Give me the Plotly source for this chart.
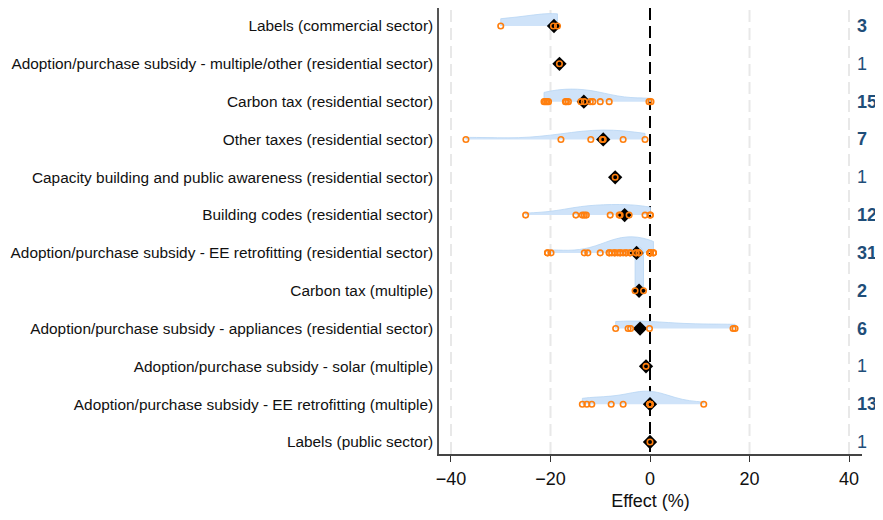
import plotly.graph_objects as go

# ---------------- data ----------------
categories = [
    "Labels (commercial sector)",
    "Adoption/purchase subsidy - multiple/other (residential sector)",
    "Carbon tax (residential sector)",
    "Other taxes (residential sector)",
    "Capacity building and public awareness (residential sector)",
    "Building codes (residential sector)",
    "Adoption/purchase subsidy - EE retrofitting (residential sector)",
    "Carbon tax (multiple)",
    "Adoption/purchase subsidy - appliances (residential sector)",
    "Adoption/purchase subsidy - solar (multiple)",
    "Adoption/purchase subsidy - EE retrofitting (multiple)",
    "Labels (public sector)",
]

labels_commercial = [-30.0, -19.4, -18.6]
subsidy_other_res = [-18.2]
carbon_tax_res = [-21.3, -21.0, -20.7, -20.4, -17.0, -16.8, -16.4, -13.9, -13.2,
                  -12.0, -11.5, -10.0, -8.2, -0.2, 0.2]
other_taxes_res = [-37.0, -17.9, -11.9, -9.6, -9.4, -5.4, -1.0]
capacity_building_res = [-7.0]
building_codes_res = [-25.0, -14.9, -13.6, -13.2, -12.8, -8.0, -6.2, -6.0, -4.2,
                      -1.0, 0.0, 0.1]
ee_retrofit_res = [-20.6, -20.6, -19.9, -13.2, -12.5, -10.0, -8.2, -8.2, -7.7,
                   -7.1, -7.1, -6.5, -6.0, -6.0, -5.4, -4.8, -4.8, -4.0, -4.0,
                   -2.8, -2.8, -2.2, -2.2, 0.0, 0.0, 0.0, 0.0, 0.0, 0.1, 0.7, 0.7]
carbon_tax_multiple = [-3.0, -1.3]
subsidy_appliances_res = [-6.9, -4.4, -3.9, -0.1, 16.7, 17.1]
subsidy_solar_multiple = [-0.8]
ee_retrofit_multiple = [-13.6, -12.7, -11.7, -7.8, -5.4, 0.0, 0.0, 0.0, 0.0, 0.0,
                        0.0, 0.0, 10.8]
labels_public = [0.0]

pooled_estimates = [-19.3, -18.2, -13.3, -9.4, -7.0, -5.1, -2.7, -2.2, -2.0, -0.8, 0.0, 0.0]
study_counts = [3, 1, 15, 7, 1, 12, 31, 2, 6, 1, 13, 1]

x_ticks = [-40, -20, 0, 20, 40]
x_title = "Effect (%)"

effects = [labels_commercial, subsidy_other_res, carbon_tax_res, other_taxes_res,
           capacity_building_res, building_codes_res, ee_retrofit_res,
           carbon_tax_multiple, subsidy_appliances_res, subsidy_solar_multiple,
           ee_retrofit_multiple, labels_public]

# ---------------- figure ----------------
FONT = "Liberation Sans, Arial, sans-serif"
n_rows = len(categories)
ypos = list(range(n_rows, 0, -1))  # first category on top

pt_x, pt_y = [], []
for vals, y in zip(effects, ypos):
    pt_x.extend(vals)
    pt_y.extend([y] * len(vals))

# densities: the narrow two-study row gets its own trace, the rest share a scale
wide_x, wide_y, narrow_x, narrow_y = [], [], [], []
for vals, y in zip(effects, ypos):
    if len(vals) < 2:
        continue
    if len(vals) == 2:
        narrow_x.extend(vals)
        narrow_y.extend([y] * len(vals))
    else:
        wide_x.extend(vals)
        wide_y.extend([y] * len(vals))

violin_style = dict(
    orientation="h", side="positive", spanmode="hard", points=False,
    quartilemethod="exclusive", fillcolor="#cfe3f9",
    line=dict(color="#b8d5f4", width=0.8), box_visible=False,
    meanline_visible=False, hoverinfo="skip", showlegend=False,
)

fig = go.Figure()
fig.add_trace(go.Violin(x=wide_x, y=wide_y, width=0.85, **violin_style))
fig.add_trace(go.Violin(x=narrow_x, y=narrow_y, width=2.3, **violin_style))

fig.add_trace(go.Scatter(
    x=pooled_estimates, y=ypos, mode="markers",
    marker=dict(symbol="diamond", size=11, color="black"),
    showlegend=False, hoverinfo="skip",
))

fig.add_trace(go.Scatter(
    x=pt_x, y=pt_y, mode="markers",
    marker=dict(symbol="circle-open", size=5.5, color="#ff7f0e",
                line=dict(width=1.6, color="#ff7f0e")),
    showlegend=False, hoverinfo="skip",
))

# light dashed gridlines at the non-zero ticks, black dashed reference line at 0
for t in x_ticks:
    if t == 0:
        continue
    fig.add_shape(type="line", x0=t, x1=t, y0=0, y1=1, xref="x", yref="paper",
                  line=dict(color="#e8e8e8", width=2, dash="12px,6px"), layer="below")
fig.add_shape(type="line", x0=0, x1=0, y0=1, y1=0, xref="x", yref="paper",
              line=dict(color="black", width=2, dash="12px,6px"), layer="below")

for n, y in zip(study_counts, ypos):
    fig.add_annotation(
        x=41.2, y=y, xref="x", yref="y", text=str(n), showarrow=False,
        xanchor="left", yanchor="middle",
        font=dict(family=FONT, size=18, color="#1f4e79",
                  weight="bold" if n > 1 else "normal"),
    )

# the page places the figure 8px from its top-left corner
fig.update_layout(
    width=875, height=504,
    margin=dict(l=431, r=21, t=0, b=58),
    paper_bgcolor="white", plot_bgcolor="white",
    font=dict(family=FONT, color="#111"),
    xaxis=dict(
        range=[-42.41, 42.61], tickvals=x_ticks, ticks="outside", ticklen=6,
        tickwidth=1.2, tickcolor="#333", tickfont=dict(size=18, color="#111"),
        showline=True, linecolor="#444", linewidth=1.5, ticklabelstandoff=2,
        showgrid=False, zeroline=False, automargin=False,
        title=dict(text=x_title, font=dict(size=18, color="#111"), standoff=6),
    ),
    yaxis=dict(
        range=[0.683, 12.476], tickvals=ypos, ticktext=categories, ticks="",
        tickfont=dict(size=15.4, color="#111"), showline=True, linecolor="#555",
        linewidth=1.5, showgrid=False, zeroline=False, ticklabelstandoff=1,
        automargin=False,
    ),
)

fig.write_html("out.html")
